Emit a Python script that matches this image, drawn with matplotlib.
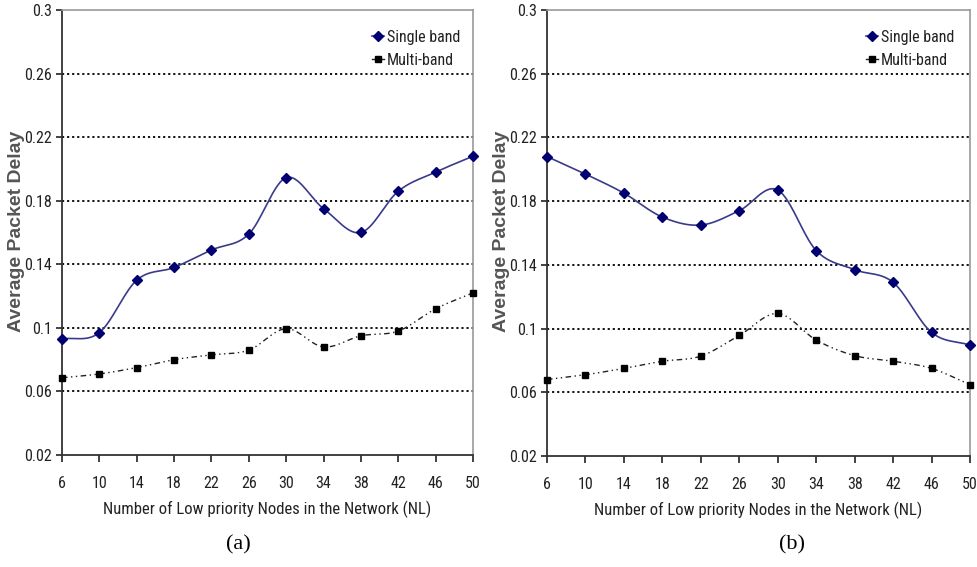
import numpy as np
import matplotlib
matplotlib.use("Agg")
import matplotlib.pyplot as plt
from matplotlib import font_manager

# ---------------- data ----------------
nodes = [6, 10, 14, 18, 22, 26, 30, 34, 38, 42, 46, 50]
single_a = [0.093, 0.097, 0.130, 0.138, 0.149, 0.159, 0.1945, 0.175, 0.160, 0.186, 0.198, 0.208]
multi_a = [0.0686, 0.071, 0.075, 0.080, 0.083, 0.086, 0.0995, 0.088, 0.095, 0.098, 0.112, 0.122]
single_b = [0.208, 0.197, 0.185, 0.170, 0.165, 0.174, 0.187, 0.149, 0.137, 0.129, 0.0976, 0.0896]
multi_b = [0.068, 0.071, 0.075, 0.0795, 0.0827, 0.0957, 0.1095, 0.0928, 0.083, 0.0795, 0.075, 0.0648]
yticks = [0.02, 0.06, 0.1, 0.14, 0.18, 0.22, 0.26, 0.3]
ytick_labels = ["0.02", "0.06", "0.1", "0.14", "0.18", "0.22", "0.26", "0.3"]
grid_levels = [0.06, 0.1, 0.14, 0.18, 0.22, 0.26]
series_names = ["Single band", "Multi-band"]
xlabel = "Number of Low priority Nodes in the Network (NL)"
ylabel = "Average Packet Delay"
captions = ["(a)", "(b)"]

# find a condensed / narrow sans font if installed
cands = []
for f in font_manager.fontManager.ttflist:
    nm = f.name
    st = str(f.stretch)
    if ("Narrow" in nm or "Condensed" in nm or st in ("condensed", "semi-condensed", "extra-condensed")
            or (isinstance(f.stretch, int) and f.stretch < 500)) and f.weight in (400, "normal", "regular") \
            and f.style == "normal":
        cands.append(f)
pref = ["Liberation Sans Narrow", "Arial Narrow", "Roboto Condensed", "Open Sans Condensed", "DejaVu Sans"]
narrow_prop = None
for p in pref:
    for f in cands:
        if f.name == p:
            narrow_prop = font_manager.FontProperties(fname=f.fname)
            break
    if narrow_prop is not None:
        break
if narrow_prop is None and cands:
    narrow_prop = font_manager.FontProperties(fname=cands[0].fname)
scale = 1.0
if narrow_prop is None:
    narrow_prop = font_manager.FontProperties(family=["Liberation Sans", "DejaVu Sans"])
    scale = 0.8


def nfont(size):
    p = narrow_prop.copy()
    p.set_size(size * scale)
    return p


sans = ["Liberation Sans", "DejaVu Sans"]
serif = ["Liberation Serif", "DejaVu Serif"]


def catmull_rom(x, y, n=30):
    x = np.asarray(x, float)
    y = np.asarray(y, float)
    px = np.concatenate([[2 * x[0] - x[1]], x, [2 * x[-1] - x[-2]]])
    py = np.concatenate([[2 * y[0] - y[1]], y, [2 * y[-1] - y[-2]]])
    xs, ys = [], []
    t = np.linspace(0, 1, n, endpoint=False)
    for i in range(1, len(px) - 2):
        for p, out in ((px, xs), (py, ys)):
            p0, p1, p2, p3 = p[i - 1], p[i], p[i + 1], p[i + 2]
            out.append(0.5 * ((2 * p1) + (-p0 + p2) * t +
                              (2 * p0 - 5 * p1 + 4 * p2 - p3) * t ** 2 +
                              (-p0 + 3 * p1 - 3 * p2 + p3) * t ** 3))
    xs = np.concatenate(xs + [[x[-1]]])
    ys = np.concatenate(ys + [[y[-1]]])
    return xs, ys


fig = plt.figure(figsize=(9.78, 5.67), dpi=100)
positions = [[62 / 978, 1 - 455 / 567, 411 / 978, 445 / 567],
             [547 / 978, 1 - 456 / 567, 423 / 978, 446 / 567]]
data = [(single_a, multi_a), (single_b, multi_b)]
caption_x = [238 / 978, 792 / 978]
ylabel_x = [17 / 978, 501 / 978]

for k, (pos, (s, m)) in enumerate(zip(positions, data)):
    ax = fig.add_axes(pos)
    ax.set_xlim(nodes[0], nodes[-1])
    ax.set_ylim(0.02, 0.3)
    for g in grid_levels:
        ax.axhline(g, color="black", lw=1.3, ls=(0, (1.2, 1.6)), zorder=1)
    sx, sy = catmull_rom(nodes, s)
    ax.plot(sx, sy, color="#3a3a8c", lw=1.2, zorder=3)
    ax.plot(nodes, s, ls="none", marker="D", ms=5.5, color="#000070", zorder=4, clip_on=False)
    mx, my = catmull_rom(nodes, m)
    ax.plot(mx, my, color="#222222", lw=1.0, ls=(0, (4, 2.5, 1, 2.5, 1, 2.5)), zorder=3)
    ax.plot(nodes, m, ls="none", marker="s", ms=4.2, color="black", zorder=4, clip_on=False)

    # legend proxies
    ax.plot([], [], ls="-", color="#3a3a8c", marker="D", ms=5.5, mfc="#000070", mec="#000070", lw=1.2, label=series_names[0])
    ax.plot([], [], ls="-", color="#222222", marker="s", ms=4.2, mfc="black", mec="black", lw=1.0, label=series_names[1])
    leg = ax.legend(loc="upper left", bbox_to_anchor=(0.738, 0.97), borderaxespad=0.0, frameon=False,
                    handlelength=0.8, handletextpad=0.15, labelspacing=0.5,
                    prop=nfont(11.5))
    for t in leg.get_texts():
        t.set_color("#222222")

    ax.set_xticks(nodes)
    ax.set_xticklabels([str(v) for v in nodes], fontproperties=nfont(11.5), color="#222222")
    ax.set_yticks(yticks)
    ax.set_yticklabels(ytick_labels, fontproperties=nfont(11.5), color="#222222")
    ax.tick_params(axis="x", length=5, width=1.2, color="#222222", pad=10)
    ax.tick_params(axis="y", length=4, width=1.2, color="#222222", pad=3)
    for side in ("left", "bottom"):
        ax.spines[side].set_color("#333333")
        ax.spines[side].set_linewidth(1.3)
    for side in ("top", "right"):
        ax.spines[side].set_color("#999999")
        ax.spines[side].set_linewidth(1.2)
    ax.set_xlabel(xlabel, fontproperties=nfont(12), color="#222222", labelpad=7)
    fig.text(ylabel_x[k], 1 - 231 / 567, ylabel, family=sans, fontsize=14, fontweight="bold",
             color="#555555", rotation=90, ha="center", va="center")
    fig.text(caption_x[k], 1 - 545 / 567, captions[k],
             family=serif, fontsize=16, ha="center", va="center", color="black")

fig.savefig("out.png", dpi=100)
